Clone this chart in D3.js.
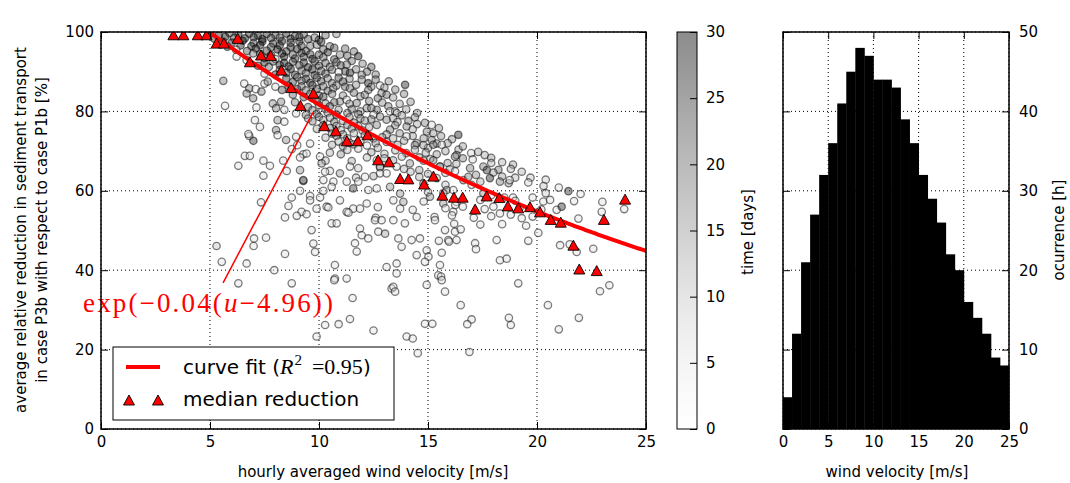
<!DOCTYPE html>
<html>
<head>
<meta charset="utf-8">
<script src="https://cdn.jsdelivr.net/npm/d3@7"></script>
<style>
  body { margin: 0; background: #fff; }
  svg { display: block; }
</style>
</head>
<body>
<svg id="chart" width="1070" height="483"></svg>
<script>
// ---- data -------------------------------------------------------------
// median reduction per wind-speed bin: [wind velocity m/s, reduction %]
const medianWind = [3.32,3.78,4.44,4.84,5.3,5.64,6.27,6.83,7.34,7.78,8.27,8.72,9.15,9.74,10.24,10.77,11.28,11.78,12.23,12.71,13.21,13.72,14.1,14.82,15.25,15.66,16.19,16.59,17.16,17.69,18.27,18.66,19.14,19.68,20.14,20.63,21.09,21.67,21.94,22.74,23.07,24.04];
const medianReduction = [99.3,99.3,99.3,99.3,97.2,97.2,98.4,92.5,94.2,94.1,90.4,86.0,81.5,84.6,76.4,75.1,72.6,72.6,74.1,67.8,67.3,63.1,63.0,61.7,63.7,58.9,58.4,58.4,55.4,58.7,58.3,56.2,55.7,56.0,54.7,52.8,52.1,46.3,40.3,39.9,52.8,57.9];

// hourly samples: [wind velocity m/s, reduction %, time days]
const hourlyPoints = [
 [5.0,99.6,24],[5.4,99.2,27],[5.9,99.7,22],[6.3,99.3,28],[6.8,99.6,25],[7.2,99.1,29],[7.6,99.5,26],[8.0,99.2,23],[8.5,99.6,27],[8.9,99.0,24],[9.3,99.4,21],[9.8,98.6,18],[10.3,99.2,20],[10.8,99.5,16],
 [5.2,98.3,25],[5.7,98.8,28],[6.1,98.5,23],[6.6,98.4,27],[7.0,98.7,26],[7.4,98.2,29],[7.8,98.5,24],[8.2,98.6,22],[8.7,98.3,28],[9.1,98.7,25],[9.5,98.2,23],[10.0,98.0,21],
 [5.6,97.6,20],[6.0,97.3,26],[6.5,97.8,29],[7.0,97.2,23],[7.4,97.6,27],[7.9,97.1,25],[8.3,97.7,28],[8.7,97.3,22],[9.1,97.6,26],[9.6,96.5,19],[9.9,96.8,17],[10.1,97.5,24],[10.5,96.4,18],
 [5.8,96.3,24],[6.4,96.6,27],[6.9,96.4,25],[7.3,96.7,28],[7.8,96.2,23],[8.2,96.6,26],[8.7,96.2,27],[9.2,96.5,24],[10.7,96.0,22],[11.2,95.8,20],
 [6.2,95.5,6],[6.7,95.2,22],[7.1,95.8,27],[7.6,95.3,25],[8.1,95.6,29],[8.5,95.1,24],[9.0,95.7,27],[9.4,95.2,22],[10.2,95.6,20],[10.4,94.9,26],[10.96,94.3,18],
 [7.3,94.5,24],[7.8,94.2,27],[8.3,94.6,25],[8.8,94.3,22],[9.2,94.7,26],[9.6,94.4,24],[10.0,94.3,23],[11.3,94.0,21],[11.6,95.1,19],
 [6.22,93.8,7],[6.68,92.9,5],[6.98,94.6,18],[7.5,93.4,26],[8.0,93.2,10],[8.4,93.8,28],[8.9,93.3,25],[9.3,93.7,23],[9.7,93.2,27],[10.2,93.6,21],[10.7,93.1,24],[11.8,93.9,28],
 [7.5,92.3,26],[7.9,92.6,22],[8.4,92.2,28],[8.8,92.5,23],[9.3,92.3,25],[9.8,92.6,24],[10.3,92.2,20],[10.8,92.4,22],[11.5,92.7,19],[12.0,92.0,17],[12.4,91.2,22],
 [7.2,91.5,24],[7.7,91.2,20],[8.2,91.7,27],[8.6,91.3,25],[9.1,91.6,22],[9.5,91.1,28],[10.0,91.5,24],[10.5,91.2,19],[11.0,91.6,23],[11.27,91.8,18],
 [8.2,90.4,24],[8.7,90.7,26],[9.2,90.3,21],[9.7,90.6,27],[10.1,90.2,22],[10.6,90.5,19],[11.2,90.1,24],[11.7,90.6,17],[12.2,90.0,20],[12.6,89.3,18],
 [7.5,89.5,8],[8.0,89.3,26],[8.5,89.7,23],[8.9,89.2,27],[9.4,89.6,20],[9.8,89.1,25],[10.3,89.5,22],[10.9,89.9,6],[11.42,89.7,27],[11.96,89.2,18],
 [8.5,88.3,25],[9.0,88.6,20],[9.4,88.2,24],[9.9,88.5,22],[10.4,88.3,18],[10.9,88.5,23],[11.4,88.2,17],[12.6,88.0,19],[13.2,87.6,16],
 [5.61,87.7,17],[6.57,87.0,6],[7.5,87.0,5],[7.65,87.5,18],[8.0,86.2,7],[8.8,87.4,24],[9.2,87.7,21],[9.6,87.2,26],[10.1,87.6,23],[10.6,87.1,20],[11.1,87.5,24],[11.96,88.0,17],[12.26,87.1,27],[12.8,86.5,7],[13.95,86.7,26],
 [8.6,86.4,22],[9.2,86.3,18],[9.7,86.6,23],[10.2,86.3,20],[10.8,86.5,17],[11.2,86.2,21],[11.7,86.7,16],[12.4,86.2,18],[13.0,86.0,15],[13.5,85.5,17],
 [6.8,85.8,17],[6.68,84.5,18],[7.1,85.6,5],[7.36,85.0,18],[8.3,85.4,22],[9.0,85.6,25],[9.4,85.3,19],[9.9,85.7,24],[10.4,85.2,21],[10.65,85.8,16],[11.42,85.8,18],[11.9,83.8,16],[12.26,85.4,18],[12.87,84.6,17],[13.1,84.2,19],
 [8.8,84.2,20],[9.6,84.4,17],[10.0,84.0,21],[10.6,84.4,18],[11.1,84.0,16],[11.6,84.7,19],[12.1,84.2,17],[13.4,83.5,15],[13.9,84.4,17],
 [6.98,83.3,18],[7.88,82.0,16],[8.26,82.4,17],[9.3,83.6,22],[9.7,83.3,18],[10.2,83.7,24],[10.96,82.5,17],[11.27,82.9,6],[11.73,82.1,18],[12.7,83.3,20],
 [8.9,82.3,17],[9.9,82.6,19],[10.3,82.0,15],[10.7,82.3,20],[11.4,81.9,16],[12.3,82.6,18],[12.9,82.2,16],[13.7,81.9,14],[14.2,82.4,16],
 [5.69,81.4,5],[7.13,81.0,6],[8.03,80.8,17],[8.41,80.4,7],[9.5,81.1,19],[10.0,81.5,16],[10.5,81.3,22],[12.19,80.8,17],[12.65,80.4,19],[13.18,81.3,18],[13.26,80.0,6],[13.49,80.0,16],
 [9.7,80.3,16],[10.3,80.6,18],[10.9,80.4,15],[11.5,80.5,19],[11.9,80.0,15],[12.4,80.8,17],[14.0,80.5,14],[14.5,79.6,16],
 [8.95,79.5,7],[9.4,79.1,17],[9.9,79.4,20],[10.4,79.7,15],[10.8,79.2,21],[11.3,79.6,17],[11.8,79.3,19],[12.5,79.2,7],[12.8,78.7,17],[13.57,79.6,8],[13.8,79.0,15],
 [9.5,78.2,15],[10.0,78.6,17],[10.5,78.4,14],[11.4,78.5,16],[11.9,78.2,15],[12.4,78.0,18],[13.4,78.3,14],[14.4,78.5,16],
 [7.06,77.8,6],[8.1,77.8,16],[8.41,77.4,6],[9.7,77.5,17],[10.2,77.8,14],[10.7,77.3,19],[11.1,77.6,13],[11.6,77.2,18],[12.1,77.7,16],[13.1,77.9,17],[13.6,77.3,12],[14.1,77.6,18],[14.86,77.1,17],[15.17,76.6,7],
 [10.2,76.5,16],[10.8,76.3,14],[11.3,76.6,17],[11.8,76.3,15],[12.3,76.0,14],[13.5,76.5,16],[14.5,76.8,13],[15.5,75.8,15],
 [7.29,76.1,6],[8.03,75.3,17],[8.1,74.0,6],[9.9,75.6,13],[10.5,75.8,17],[11.0,75.3,12],[11.5,75.7,18],[12.0,75.2,14],[12.65,76.6,17],[13.26,75.4,18],[13.7,74.5,16],[14.02,76.2,17],[14.3,75.5,13],[14.95,74.9,18],[15.24,74.5,15],
 [10.6,74.4,13],[11.1,74.2,15],[11.6,74.5,12],[12.1,74.0,14],[12.5,73.2,16],[13.1,74.2,15],[14.3,73.8,14],[14.8,73.2,16],[15.6,73.8,15],
 [6.8,73.8,6],[6.76,74.3,6],[8.49,72.8,16],[8.95,73.6,6],[10.3,73.4,12],[10.8,73.8,17],[11.3,73.2,14],[12.9,73.5,16],[13.4,73.2,13],[14.02,73.7,7],[14.48,72.0,17],[15.17,72.8,18],[16.1,73.0,15],[16.39,74.1,26],
 [10.9,72.4,12],[11.4,72.1,14],[11.9,72.6,11],[12.6,72.0,15],[13.1,72.3,13],[13.9,72.6,14],[15.0,70.8,13],[15.9,72.0,15],[16.4,70.4,14],
 [6.99,72.6,24],[9.0,71.5,6],[9.59,71.9,6],[10.6,71.6,13],[11.1,71.2,16],[11.6,71.7,12],[12.2,71.4,6],[13.6,71.6,15],[14.4,71.5,16],[14.79,71.5,15],[15.4,71.9,17],[15.24,71.6,17],[15.63,71.6,7],[16.6,71.2,14],
 [11.3,70.3,12],[11.8,70.6,10],[12.7,70.8,13],[13.5,70.2,12],[14.4,70.3,13],[15.8,70.0,14],[17.6,69.0,13],[17.9,68.3,15],
 [8.75,70.5,6],[9.28,69.2,6],[9.43,69.4,6],[10.5,69.6,12],[11.0,69.2,15],[12.4,69.7,14],[13.0,69.3,11],[14.0,69.5,16],[14.9,69.6,13],[15.4,69.2,15],[16.31,69.0,17],[16.98,69.5,7],[17.3,69.8,14],
 [12.2,68.4,11],[13.0,68.2,12],[13.8,68.6,11],[14.6,68.4,14],[15.1,68.0,12],[15.9,67.0,15],[16.3,66.8,13],[18.4,67.2,12],[18.9,66.6,14],
 [6.6,68.8,6],[6.83,68.8,5],[7.45,67.6,6],[7.75,66.3,6],[8.36,67.6,6],[9.13,68.4,6],[10.05,68.6,6],[10.3,67.6,11],[11.5,67.5,13],[12.65,67.7,6],[13.4,67.7,14],[14.17,66.9,16],[14.8,67.6,15],[15.24,67.7,17],[15.55,66.1,17],[16.24,68.6,16],[16.6,68.2,17],[17.05,67.9,7],[17.54,66.1,17],[17.9,67.0,12],
 [6.3,66.3,6],[8.52,65.0,6],[10.12,66.9,15],[10.5,65.0,6],[11.42,66.1,6],[11.8,65.7,10],[12.8,66.1,6],[12.8,65.9,17],[13.56,66.1,6],[13.9,65.5,12],[14.6,65.2,14],[15.55,66.1,16],[16.0,65.4,13],[16.93,65.7,17],[17.7,65.2,25],[18.23,65.3,18],[18.8,65.5,12],
 [14.2,64.8,12],[15.0,64.3,14],[15.8,64.5,11],[17.2,64.0,16],[18.0,64.6,14],[19.3,64.8,12],[19.7,63.3,10],[20.4,62.8,9],[17.4,62.3,13],
 [7.45,63.8,6],[9.28,62.5,24],[9.13,65.2,15],[10.28,64.8,6],[10.96,64.4,15],[12.11,63.5,6],[12.8,64.4,6],[13.1,64.4,6],[11.7,63.3,11],[12.5,63.7,13],[14.6,63.5,12],[15.4,63.2,13],[16.24,64.9,7],[16.62,62.7,17],[16.85,63.5,17],[17.84,63.2,26],[18.4,63.6,14],[19.0,63.3,11],
 [9.28,62.7,16],[10.2,62.7,6],[10.66,62.3,6],[11.27,62.3,6],[11.8,62.3,6],[10.58,61.0,6],[13.26,61.0,15],[14.79,61.8,16],[15.8,61.5,10],[17.0,61.5,7],[18.3,62.3,17],[18.7,61.9,16],[18.75,62.7,7],[19.6,62.1,7],[20.3,61.2,10],[21.0,60.8,6],
 [9.13,60.0,6],[10.2,60.0,6],[11.57,60.6,24],[12.26,60.2,6],[12.65,60.6,6],[13.72,59.3,15],[15.0,59.7,10],[15.86,60.2,16],[16.16,60.2,6],[15.7,59.4,6],[17.54,59.4,15],[17.9,58.9,6],[18.5,58.3,6],[18.9,58.3,6],[19.8,58.3,6],[20.4,59.4,9],[21.44,59.9,25],[22.0,59.2,6],
 [7.34,57.1,6],[8.75,58.3,6],[9.59,58.7,6],[10.05,58.3,6],[9.59,57.6,6],[10.96,57.6,6],[13.41,57.6,6],[13.87,57.2,15],[15.09,58.5,15],[14.8,57.3,8],[15.7,56.8,15],[16.31,57.2,6],[16.25,56.4,6],[17.4,57.7,6],[18.0,56.0,6],[19.0,57.5,8],[20.29,57.3,6],[20.6,57.7,6],[21.7,57.4,6],[23.0,57.2,6],
 [8.6,56.2,6],[9.2,54.7,6],[9.89,55.5,6],[10.35,56.0,6],[10.43,55.8,6],[11.27,54.7,6],[11.57,55.5,6],[11.88,55.5,6],[12.19,56.8,6],[12.7,55.9,6],[13.72,55.5,6],[14.3,55.2,7],[15.8,55.6,6],[16.16,54.7,6],[16.6,56.0,6],[17.6,55.4,6],[18.3,54.3,6],[19.2,55.7,6],[20.2,55.3,6],[20.9,55.2,6],[21.13,56.0,25],[22.97,54.7,6],[24.0,55.4,6],
 [8.44,53.3,6],[8.98,53.7,6],[9.43,54.1,6],[11.35,54.5,6],[12.6,53.2,6],[14.48,53.4,6],[15.3,53.4,6],[16.1,53.8,6],[17.1,53.2,6],[17.9,53.6,6],[18.8,54.0,6],[19.3,53.1,6],[19.8,53.5,6],[21.9,53.0,6],
 [10.58,51.8,6],[10.81,51.8,6],[12.57,52.6,6],[12.87,52.6,6],[13.41,52.6,6],[13.94,51.8,6],[15.32,52.6,6],[16.2,51.7,6],[17.4,51.5,6],[18.4,51.6,6],[19.5,51.2,6],
 [9.66,50.1,6],[11.88,50.5,6],[12.72,49.7,6],[13.03,49.2,14],[15.78,50.1,6],[16.24,49.7,6],[16.5,50.3,6],[20.06,49.4,6],
 [11.96,48.8,6],[12.26,48.0,6],[13.64,48.0,6],[14.25,47.6,6],[14.63,48.0,6],[15.93,47.6,6],[16.31,47.6,6],[9.74,46.7,6],[11.65,46.8,6],[15.5,47.4,6],[15.96,47.2,6],[17.16,46.8,6],[17.2,45.3,6],[18.15,47.6,6],[19.6,47.4,6],
 [5.3,46.1,10],[7.0,46.1,6],[7.02,48.0,6],[7.57,48.2,6],[13.79,45.9,6],[14.94,45.0,6],[11.73,44.7,6],[21.06,46.3,6],[21.5,46.5,6],[22.58,45.4,6],[9.82,44.6,6],
 [8.44,44.1,6],[14.48,43.8,6],[15.02,43.4,6],[15.63,44.4,6],[18.3,42.5,6],[18.61,42.9,6],[21.82,44.6,6],[14.86,42.1,6],
 [5.54,42.1,6],[6.68,41.7,6],[10.73,41.3,6],[13.56,41.7,6],[13.1,40.8,6],[15.55,41.3,6],
 [7.95,40.0,6],[13.56,39.2,6],[15.47,38.7,6],[15.6,38.4,6],
 [6.3,36.7,6],[8.75,36.7,6],[10.73,37.9,6],[11.27,37.9,6],[15.63,37.5,6],[10.7,37.5,6],
 [13.33,35.4,6],[13.41,35.8,6],[13.49,34.6,6],[14.94,36.3,6],[15.78,34.6,6],[19.14,36.7,6],[22.89,34.7,6],[23.32,36.2,6],
 [11.54,33.0,6],
 [16.5,31.2,6],[20.5,31.2,6],
 [17.0,27.6,6],[16.8,26.4,6],[18.71,28.0,6],[21.92,28.0,6],[11.42,27.7,6],[10.9,26.4,6],
 [10.28,26.2,6],[14.86,26.5,6],[15.2,26.5,6],[18.8,26.2,6],
 [12.5,24.8,6],[21.0,25.1,6],
 [9.89,23.3,6],[14.02,23.3,6],[14.3,22.8,6],
 [14.53,19.1,6],[16.9,19.4,6]
];

// hours per 1 m/s wind-velocity bin, 0-25 m/s
const histCounts = [4,12,21,27,32,36,41,45,48,47,44,44,43,39,36,32,29,26,22,20,16,14,12,9,8];

// exponential fit parameters, reduction = 100 * exp(-k (u - u0))
const fitRate = 0.04;
const fitOffset = 4.96;
const fitR2 = "0.95";

const windTicks = [0, 5, 10, 15, 20, 25];
const reductionTicks = [0, 20, 40, 60, 80, 100];
const timeTicks = [0, 5, 10, 15, 20, 25, 30];
const hoursTicks = [0, 10, 20, 30, 40, 50];

// ---- setup ------------------------------------------------------------
const svg = d3.select("#chart");
const FONT = "DejaVu Sans, sans-serif";
const SERIF = "Liberation Serif, DejaVu Serif, serif";
const TICK = 7;

const mx = d3.scaleLinear().domain([0, 25]).range([101, 646]);
const my = d3.scaleLinear().domain([0, 100]).range([429, 32]);
const cy = d3.scaleLinear().domain([0, 30]).range([429, 32]);
const hx = d3.scaleLinear().domain([0, 25]).range([783, 1009]);
const hy = d3.scaleLinear().domain([0, 50]).range([429, 32]);

const pointAlpha = 0.45;
const grey = t => d3.interpolateGreys(t / 30);

function styleAxis(g) {
  g.select(".domain").remove();
  g.attr("font-family", FONT).attr("font-size", 15);
  g.selectAll(".tick line").attr("stroke", "#000").attr("stroke-width", 1);
  g.selectAll(".tick text").attr("fill", "#000");
}

function grid(g, xs, ys, xScale, yScale) {
  const [x0, x1] = xScale.range();
  const [y0, y1] = yScale.range();
  g.selectAll(null).data(xs).join("line")
    .attr("x1", d => xScale(d)).attr("x2", d => xScale(d))
    .attr("y1", y0).attr("y2", y1);
  g.selectAll(null).data(ys).join("line")
    .attr("y1", d => yScale(d)).attr("y2", d => yScale(d))
    .attr("x1", x0).attr("x2", x1);
  g.attr("stroke", "#000").attr("stroke-width", 1).attr("stroke-dasharray", "1,3");
}

function frameAxes(xScale, yScale, opts) {
  const [x0, x1] = xScale.range();
  const [yb, yt] = yScale.range();
  const g = svg.append("g");
  g.append("g").attr("transform", `translate(0,${yb})`)
    .call(d3.axisBottom(xScale).tickValues(opts.xTicks).tickSizeInner(-TICK).tickSizeOuter(0).tickPadding(7)
      .tickFormat(d3.format("d"))).call(styleAxis);
  g.append("g").attr("transform", `translate(0,${yt})`)
    .call(d3.axisTop(xScale).tickValues(opts.xTicks).tickSizeInner(-TICK).tickSizeOuter(0).tickFormat(() => "")).call(styleAxis);
  g.append("g").attr("transform", `translate(${x0},0)`)
    .call(d3.axisLeft(yScale).tickValues(opts.yTicks).tickSizeInner(-TICK).tickSizeOuter(0).tickPadding(7)
      .tickFormat(opts.labelsLeft ? d3.format("d") : () => "")).call(styleAxis);
  g.append("g").attr("transform", `translate(${x1},0)`)
    .call(d3.axisRight(yScale).tickValues(opts.yTicks).tickSizeInner(-TICK).tickSizeOuter(0).tickPadding(10)
      .tickFormat(opts.labelsLeft ? () => "" : d3.format("d"))).call(styleAxis);
  g.append("rect").attr("x", x0).attr("y", yt).attr("width", x1 - x0).attr("height", yb - yt)
    .attr("fill", "none").attr("stroke", "#000").attr("stroke-width", 1.5);
}

// ---- scatter panel ----------------------------------------------------
svg.append("clipPath").attr("id", "mainClip").append("rect")
  .attr("x", mx(0)).attr("y", my(100)).attr("width", mx(25) - mx(0)).attr("height", my(0) - my(100));

grid(svg.append("g"), windTicks, reductionTicks, mx, my);

const plot = svg.append("g").attr("clip-path", "url(#mainClip)");

plot.append("g").selectAll("circle").data(hourlyPoints).join("circle")
  .attr("cx", d => mx(d[0])).attr("cy", d => my(d[1])).attr("r", 3.7)
  .attr("fill", d => grey(d[2])).attr("fill-opacity", pointAlpha)
  .attr("stroke", "#000").attr("stroke-opacity", 0.5).attr("stroke-width", 1.3);

const fitU = d3.range(0, 25.001, 0.1);
const fitCurve = d3.line().x(u => mx(u)).y(u => my(100 * Math.exp(-fitRate * (u - fitOffset))));
plot.append("path").attr("d", fitCurve(fitU))
  .attr("fill", "none").attr("stroke", "#ff0000").attr("stroke-width", 4);

// annotation pointing at the fitted curve
const annoFrom = [5.6, 36.8], annoTo = [9.72, 79.7];
svg.append("line")
  .attr("x1", mx(annoFrom[0])).attr("y1", my(annoFrom[1]))
  .attr("x2", mx(annoTo[0])).attr("y2", my(annoTo[1]))
  .attr("stroke", "#ff0000").attr("stroke-width", 1.5);

const triPath = "M0,-5L5.5,5L-5.5,5Z";
const medians = medianWind.map((u, i) => [u, medianReduction[i]]);
plot.append("g").selectAll("path").data(medians).join("path")
  .attr("d", triPath)
  .attr("transform", d => `translate(${mx(d[0])},${my(d[1])})`)
  .attr("fill", "#ff0000").attr("stroke", "#000").attr("stroke-width", 0.9);

const anno = svg.append("text")
  .attr("x", 83).attr("y", 312)
  .attr("font-family", SERIF).attr("font-size", 27).attr("fill", "#ff0000")
  .attr("textLength", 250).attr("lengthAdjust", "spacing");
anno.append("tspan").text(`exp(\u2212${fitRate.toFixed(2)}(`);
anno.append("tspan").attr("font-style", "italic").text("u");
anno.append("tspan").text(`\u2212${fitOffset.toFixed(2)}))`);

frameAxes(mx, my, { xTicks: windTicks, yTicks: reductionTicks, labelsLeft: true });

// legend
const lg = svg.append("g");
lg.append("rect").attr("x", 113).attr("y", 347).attr("width", 281).attr("height", 73)
  .attr("fill", "#fff").attr("stroke", "#000").attr("stroke-width", 1);
lg.append("line").attr("x1", 126).attr("x2", 160).attr("y1", 367).attr("y2", 367)
  .attr("stroke", "#ff0000").attr("stroke-width", 4);
const l1 = lg.append("text").attr("x", 183).attr("y", 374).attr("font-family", FONT).attr("font-size", 20).attr("fill", "#000");
l1.append("tspan").text("curve fit (");
l1.append("tspan").attr("font-family", SERIF).attr("font-style", "italic").attr("font-size", 22).text("R");
l1.append("tspan").attr("font-family", SERIF).attr("font-size", 15).attr("dy", -9).attr("dx", 1).text("2");
l1.append("tspan").attr("font-family", SERIF).attr("font-size", 22).attr("dy", 9).attr("dx", 10).text(`=${fitR2}`);
l1.append("tspan").text(")");
lg.selectAll("path").data([129, 158]).join("path")
  .attr("d", triPath).attr("transform", d => `translate(${d},400)`)
  .attr("fill", "#ff0000").attr("stroke", "#000").attr("stroke-width", 0.9);
lg.append("text").attr("x", 183).attr("y", 406).attr("font-family", FONT).attr("font-size", 20)
  .attr("fill", "#000").text("median reduction");

// axis titles
svg.append("text").attr("x", 373).attr("y", 477).attr("text-anchor", "middle")
  .attr("font-family", FONT).attr("font-size", 15).text("hourly averaged wind velocity [m/s]");
const yTitle = svg.append("text").attr("transform", "translate(0,230) rotate(-90)")
  .attr("text-anchor", "middle").attr("font-family", FONT).attr("font-size", 15);
yTitle.append("tspan").attr("x", 0).attr("y", 26).text("average relative reduction in sediment transport");
yTitle.append("tspan").attr("x", 0).attr("y", 47).text("in case P3b with respect to case P1b [%]");

// ---- colour bar -------------------------------------------------------
const defs = svg.append("defs");
const grad = defs.append("linearGradient").attr("id", "timeGrad")
  .attr("x1", 0).attr("y1", 1).attr("x2", 0).attr("y2", 0);
d3.range(0, 1.0001, 0.1).forEach(f => {
  grad.append("stop").attr("offset", f).attr("stop-color", grey(f * 30)).attr("stop-opacity", pointAlpha);
});
svg.append("rect").attr("x", 677).attr("y", cy(30)).attr("width", 20).attr("height", cy(0) - cy(30))
  .attr("fill", "url(#timeGrad)");
svg.append("g").attr("transform", "translate(697,0)")
  .call(d3.axisRight(cy).tickValues(timeTicks).tickSizeInner(-TICK).tickSizeOuter(0).tickPadding(9))
  .call(styleAxis);
svg.append("rect").attr("x", 677).attr("y", cy(30)).attr("width", 20).attr("height", cy(0) - cy(30))
  .attr("fill", "none").attr("stroke", "#000").attr("stroke-width", 1);
svg.append("text").attr("transform", "translate(753,232) rotate(-90)").attr("text-anchor", "middle")
  .attr("font-family", FONT).attr("font-size", 15).text("time [days]");

// ---- histogram panel --------------------------------------------------
svg.append("g").selectAll("rect").data(histCounts).join("rect")
  .attr("x", (d, i) => hx(i)).attr("width", (d, i) => hx(i + 1) - hx(i) + 0.4)
  .attr("y", d => hy(d)).attr("height", d => hy(0) - hy(d))
  .attr("fill", "#000");
grid(svg.append("g"), windTicks, hoursTicks, hx, hy);
frameAxes(hx, hy, { xTicks: windTicks, yTicks: hoursTicks, labelsLeft: false });

svg.append("text").attr("x", 897).attr("y", 477).attr("text-anchor", "middle")
  .attr("font-family", FONT).attr("font-size", 15).text("wind velocity [m/s]");
svg.append("text").attr("transform", "translate(1064,230) rotate(-90)").attr("text-anchor", "middle")
  .attr("font-family", FONT).attr("font-size", 15).text("ocurrence [h]");
</script>
</body>
</html>
